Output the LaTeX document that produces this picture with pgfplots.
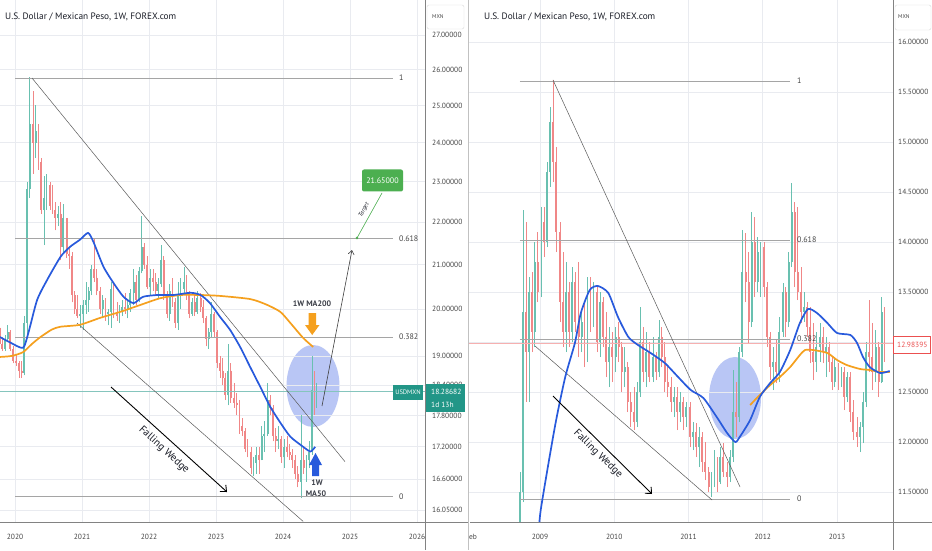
\documentclass[border=0pt]{standalone}
\usepackage{fontspec}
\setmainfont{PT Sans}
\usepackage{pgfplots}
\pgfplotsset{compat=1.18}
\usepackage{pgfplotstable}
\usetikzlibrary{arrows.meta}

\definecolor{upc}{RGB}{105,192,176}
\definecolor{dnc}{RGB}{240,135,135}
\definecolor{ma50}{RGB}{40,90,220}
\definecolor{ma200}{RGB}{245,160,30}
\definecolor{gridc}{RGB}{233,235,240}
\definecolor{axc}{RGB}{130,130,130}
\definecolor{txt}{RGB}{70,70,70}
\definecolor{ttl}{RGB}{25,28,38}
\definecolor{teal2}{RGB}{34,150,135}
\definecolor{tgt}{RGB}{76,175,80}
\definecolor{fibc}{RGB}{165,165,165}
\definecolor{trc}{RGB}{90,90,90}
\definecolor{ell}{RGB}{185,198,245}
\definecolor{redl}{RGB}{235,80,80}

\newcommand\buildcandles[1]{%
  \gdef\CANDLES{}%
  \pgfplotstablegetrowsof{#1}%
  \pgfmathtruncatemacro\nrows{\pgfplotsretval-1}%
  \foreach \i in {0,...,\nrows}{%
    \pgfplotstablegetelem{\i}{t}\of#1\let\ct\pgfplotsretval
    \pgfplotstablegetelem{\i}{o}\of#1\let\co\pgfplotsretval
    \pgfplotstablegetelem{\i}{h}\of#1\let\ch\pgfplotsretval
    \pgfplotstablegetelem{\i}{l}\of#1\let\cl\pgfplotsretval
    \pgfplotstablegetelem{\i}{c}\of#1\let\cc\pgfplotsretval
    \pgfmathtruncatemacro\isup{\cc>=\co}%
    \ifnum\isup=1 \def\ccol{upc}\else\def\ccol{dnc}\fi
    \xdef\CANDLES{\unexpanded\expandafter{\CANDLES}%
      \noexpand\addplot[\ccol, line width=0.6pt, forget plot] coordinates {(\ct,\cl) (\ct,\ch)};%
      \noexpand\addplot[\ccol, line width=1.9pt, forget plot] coordinates {(\ct,\co) (\ct,\cc)};}%
  }%
}

\pgfplotstableread{
t o h l c
2019.77 19.60 19.65 19.15 19.25
2019.81 19.25 19.40 19.10 19.15
2019.85 19.15 19.45 19.10 19.35
2019.89 19.35 19.65 19.30 19.50
2019.93 19.50 19.55 19.10 19.15
2019.97 19.15 19.20 18.85 18.90
2020.02 18.90 19.05 18.80 18.85
2020.06 18.85 18.90 18.55 18.70
2020.10 18.70 18.90 18.55 18.65
2020.14 18.65 19.85 18.60 19.70
2020.18 19.70 23.00 19.40 22.80
2020.22 22.80 25.78 22.60 24.50
2020.27 24.50 25.40 23.20 24.00
2020.31 24.00 25.00 23.60 24.30
2020.35 24.30 24.50 23.30 23.50
2020.39 23.50 23.60 22.20 22.30
2020.43 22.30 23.15 21.45 22.60
2020.47 22.60 23.20 22.30 22.90
2020.52 22.90 23.00 22.30 22.40
2020.56 22.40 22.90 22.20 22.30
2020.60 22.30 22.50 21.80 22.10
2020.64 22.10 22.40 21.90 22.20
2020.68 22.20 22.50 21.10 21.40
2020.72 21.40 22.45 21.30 22.10
2020.77 22.10 22.10 21.15 21.25
2020.81 21.25 21.40 20.90 21.20
2020.85 21.20 21.30 20.15 20.30
2020.89 20.30 20.40 19.90 20.00
2020.93 20.00 20.30 19.80 19.85
2020.97 19.85 20.10 19.60 19.90
2021.02 19.90 20.20 19.55 20.10
2021.06 20.10 20.60 19.90 20.20
2021.10 20.20 20.50 19.95 20.40
2021.14 20.40 21.00 20.30 20.90
2021.18 20.90 21.60 20.60 20.70
2021.22 20.70 20.90 20.30 20.40
2021.27 20.40 20.50 19.90 20.00
2021.31 20.00 20.30 19.80 20.20
2021.35 20.20 20.25 19.75 19.90
2021.39 19.90 20.00 19.65 19.95
2021.43 19.95 20.60 19.60 20.45
2021.47 20.45 20.55 19.80 19.95
2021.52 19.95 20.15 19.75 19.85
2021.56 19.85 20.10 19.70 19.95
2021.60 19.95 20.20 19.85 20.05
2021.64 20.05 20.35 19.90 20.00
2021.68 20.00 20.20 19.80 20.10
2021.72 20.10 20.45 19.95 20.35
2021.77 20.35 20.90 20.10 20.60
2021.81 20.60 20.75 20.10 20.20
2021.85 20.20 20.95 20.15 20.85
2021.89 20.85 22.15 20.80 21.40
2021.93 21.40 21.50 20.90 21.00
2021.97 21.00 21.20 20.45 20.50
2022.02 20.50 20.90 20.30 20.70
2022.06 20.70 20.90 20.40 20.60
2022.10 20.60 20.80 20.30 20.40
2022.14 20.40 20.70 20.25 20.55
2022.18 20.55 21.45 20.50 21.10
2022.22 21.10 21.20 20.20 20.30
2022.27 20.30 20.40 19.80 19.90
2022.31 19.90 20.55 19.75 20.40
2022.35 20.40 20.70 20.05 20.15
2022.39 20.15 20.25 19.60 19.70
2022.43 19.70 20.60 19.55 20.30
2022.47 20.30 20.70 20.00 20.45
2022.52 20.45 20.95 20.30 20.60
2022.56 20.60 20.75 20.20 20.30
2022.60 20.30 20.40 19.80 19.90
2022.64 19.90 20.25 19.85 20.15
2022.68 20.15 20.30 19.85 19.95
2022.72 19.95 20.40 19.90 20.25
2022.77 20.25 20.35 19.95 20.05
2022.81 20.05 20.20 19.70 19.80
2022.85 19.80 19.85 19.20 19.35
2022.89 19.35 19.60 19.15 19.50
2022.93 19.50 20.15 19.40 19.90
2022.97 19.90 19.95 19.40 19.50
2023.02 19.50 19.55 18.75 18.85
2023.06 18.85 19.00 18.55 18.70
2023.10 18.70 18.95 18.40 18.55
2023.14 18.55 18.65 18.10 18.20
2023.18 18.20 19.25 18.00 18.70
2023.22 18.70 18.85 18.05 18.15
2023.27 18.15 18.45 17.95 18.05
2023.31 18.05 18.25 17.80 18.00
2023.35 18.00 18.10 17.45 17.60
2023.39 17.60 17.75 17.40 17.50
2023.43 17.50 17.55 17.10 17.15
2023.47 17.15 17.35 17.00 17.10
2023.52 17.10 17.20 16.70 16.80
2023.56 16.80 17.00 16.65 16.90
2023.60 16.90 17.20 16.70 17.05
2023.64 17.05 17.20 16.70 16.95
2023.68 16.95 17.60 16.95 17.40
2023.72 17.40 17.70 17.10 17.45
2023.77 17.45 18.45 17.40 18.10
2023.81 18.10 18.20 17.80 17.95
2023.85 17.95 18.00 17.30 17.40
2023.89 17.40 17.55 17.10 17.30
2023.93 17.30 17.60 17.15 17.35
2023.97 17.35 17.40 16.90 17.00
2024.02 17.00 17.35 16.80 17.20
2024.06 17.20 17.40 17.00 17.10
2024.10 17.10 17.25 16.95 17.05
2024.14 17.05 17.15 16.80 16.95
2024.18 16.95 17.05 16.60 16.70
2024.22 16.70 16.85 16.45 16.55
2024.27 16.55 17.80 16.26 16.95
2024.31 16.95 17.20 16.70 16.80
2024.35 16.80 17.05 16.55 16.95
2024.39 16.95 17.30 16.80 17.10
2024.43 17.10 18.99 17.05 18.30
2024.47 18.30 18.70 17.80 18.05
2024.50 18.05 18.45 17.95 18.29
}\Ldata

\pgfplotstableread{
t o h l c
2008.73 10.90 11.70 10.80 11.50
2008.77 11.50 14.32 11.40 13.30
2008.81 13.30 14.20 12.40 12.90
2008.85 12.90 13.65 12.40 13.50
2008.89 13.50 13.70 12.90 13.10
2008.93 13.10 14.00 12.95 13.80
2008.97 13.80 14.10 13.40 13.50
2009.02 13.50 14.35 13.45 14.20
2009.06 14.20 14.35 13.85 14.00
2009.10 14.00 14.80 13.95 14.70
2009.14 14.70 15.35 14.55 15.20
2009.18 15.20 15.62 14.60 14.80
2009.22 14.80 14.95 13.90 14.10
2009.27 14.10 14.20 13.20 13.40
2009.31 13.40 13.90 12.95 13.10
2009.35 13.10 13.80 12.90 13.50
2009.39 13.50 13.60 12.95 13.10
2009.43 13.10 13.75 13.00 13.60
2009.47 13.60 13.70 13.10 13.20
2009.52 13.20 13.80 12.85 13.05
2009.56 13.05 13.30 12.90 13.20
2009.60 13.20 13.40 12.75 12.85
2009.64 12.85 13.65 12.80 13.50
2009.68 13.50 13.65 13.10 13.40
2009.72 13.40 13.60 13.15 13.50
2009.77 13.50 13.55 12.90 13.00
2009.81 13.00 13.50 12.85 13.40
2009.85 13.40 13.45 12.95 13.05
2009.89 13.05 13.30 12.65 12.80
2009.93 12.80 13.15 12.55 12.95
2009.97 12.95 13.10 12.60 12.85
2010.02 12.85 13.15 12.70 13.05
2010.06 13.05 13.20 12.80 12.95
2010.10 12.95 13.00 12.50 12.70
2010.14 12.70 12.95 12.55 12.75
2010.18 12.75 12.80 12.30 12.40
2010.22 12.40 12.50 12.15 12.30
2010.27 12.30 12.55 12.12 12.20
2010.31 12.20 12.60 12.15 12.50
2010.35 12.50 13.35 12.45 13.00
2010.39 13.00 13.15 12.60 12.70
2010.43 12.70 13.10 12.55 12.90
2010.47 12.90 13.00 12.60 12.65
2010.52 12.65 13.05 12.60 12.85
2010.56 12.85 12.90 12.62 12.70
2010.60 12.70 13.22 12.65 13.05
2010.64 13.05 13.15 12.75 12.85
2010.68 12.85 13.00 12.50 12.60
2010.72 12.60 12.75 12.45 12.55
2010.77 12.55 12.65 12.30 12.40
2010.81 12.40 12.55 12.25 12.45
2010.85 12.45 12.55 12.12 12.30
2010.89 12.30 12.50 12.20 12.40
2010.93 12.40 12.45 12.12 12.25
2010.97 12.25 12.40 12.15 12.35
2011.02 12.35 12.40 11.95 12.05
2011.06 12.05 12.20 11.92 12.10
2011.10 12.10 12.19 11.85 11.95
2011.14 11.95 12.15 11.75 12.05
2011.18 12.05 12.10 11.70 11.80
2011.22 11.80 12.00 11.62 11.70
2011.27 11.70 11.75 11.50 11.55
2011.31 11.55 11.70 11.45 11.60
2011.35 11.60 11.92 11.55 11.80
2011.39 11.80 11.85 11.50 11.60
2011.43 11.60 11.95 11.58 11.85
2011.47 11.85 11.99 11.65 11.70
2011.52 11.70 11.80 11.55 11.65
2011.56 11.65 11.92 11.60 11.85
2011.60 11.85 12.72 11.80 12.30
2011.64 12.30 12.60 12.05 12.25
2011.68 12.25 12.95 12.20 12.90
2011.72 12.90 14.12 12.85 13.70
2011.77 13.70 14.09 13.40 13.60
2011.81 13.60 13.90 12.99 13.20
2011.85 13.20 14.30 13.15 14.00
2011.89 14.00 14.25 13.45 13.60
2011.93 13.60 14.05 13.50 13.90
2011.97 13.90 14.00 13.45 13.95
2012.02 13.95 14.00 13.45 13.55
2012.06 13.55 13.60 12.95 13.05
2012.10 13.05 13.10 12.62 12.75
2012.14 12.75 12.95 12.52 12.80
2012.18 12.80 13.02 12.59 12.70
2012.22 12.70 13.25 12.60 13.10
2012.27 13.10 13.59 13.05 13.50
2012.31 13.50 13.55 13.05 13.20
2012.35 13.20 13.90 13.15 13.80
2012.39 13.80 14.59 13.75 14.30
2012.43 14.30 14.40 13.55 13.70
2012.47 13.70 14.35 13.42 13.50
2012.52 13.50 13.75 13.19 13.30
2012.56 13.30 13.50 13.20 13.35
2012.60 13.35 13.40 13.05 13.15
2012.64 13.15 13.35 12.79 12.90
2012.68 12.90 13.19 12.62 12.80
2012.72 12.80 13.10 12.70 12.95
2012.77 12.95 13.19 12.80 13.05
2012.81 13.05 13.15 12.79 12.90
2012.85 12.90 13.05 12.65 12.95
2012.89 12.95 13.00 12.70 12.80
2012.93 12.80 12.85 12.52 12.60
2012.97 12.60 12.85 12.55 12.75
2013.02 12.75 12.79 12.52 12.60
2013.06 12.60 12.75 12.55 12.70
2013.10 12.70 12.75 12.32 12.45
2013.14 12.45 12.70 12.40 12.65
2013.18 12.65 12.70 12.20 12.30
2013.22 12.30 12.42 12.02 12.10
2013.27 12.10 12.25 11.95 12.05
2013.31 12.05 12.20 11.90 12.15
2013.35 12.15 12.50 11.99 12.40
2013.39 12.40 13.00 12.35 12.90
2013.43 12.90 13.42 12.70 12.85
2013.47 12.85 13.19 12.52 12.70
2013.52 12.70 13.12 12.60 12.95
2013.56 12.95 13.00 12.45 12.60
2013.60 12.60 13.45 12.59 13.30
2013.64 13.30 13.35 12.80 12.98
}\Rdata

\begin{document}
\begin{tikzpicture}
\useasboundingbox (0pt,0pt) rectangle (932pt,550pt);
\fill[white] (0pt,0pt) rectangle (932pt,550pt);

% highlight ellipses (behind data), pixel coordinates
\begin{scope}[x=1pt,y=1pt,shift={(0pt,550pt)},yscale=-1]
\fill[ell] (313,386) ellipse [x radius=26.5, y radius=41];
\fill[ell] (735,398) ellipse [x radius=26, y radius=41];
\end{scope}

% ---------------- left panel (log price scale) ----------------
\buildcandles{\Ldata}
\begin{axis}[
  at={(0pt,28pt)}, anchor=south west, scale only axis,
  width=425pt, height=522pt,
  xmin=2019.776, xmax=2026.119,
  y coord trafo/.code={\pgfmathparse{ln(#1)}},
  y coord inv trafo/.code={\pgfmathparse{exp(#1)}},
  ymin=15.84, ymax=28.06,
  axis x line*=bottom, axis y line*=right,
  axis line style={draw=none},
  xtick={2020,2021,2022,2023,2024,2025,2026},
  xticklabels={2020,2021,2022,2023,2024,2025,2026},
  ytick={16.05,16.6,17.2,17.8,18.4,19,20,21,22,23,24,25,26,27},
  yticklabels={16.05000,16.60000,17.20000,17.80000,18.40000,19.00000,20.00000,21.00000,22.00000,23.00000,24.00000,25.00000,26.00000,27.00000},
  major tick length=0pt,
  grid=major, major grid style={gridc, line width=0.6pt},
  tick label style={font=\fontsize{7.5}{9}\selectfont, text=txt},
  xticklabel style={anchor=center, yshift=-15pt},
  yticklabel style={anchor=west, inner sep=0pt, xshift=7pt},
  /pgf/number format/assume math mode=true,
  clip mode=individual,
]
\CANDLES
% price line
\addplot[teal2!55, line width=0.5pt] coordinates {(2019.776,18.28682) (2026.119,18.28682)};
% fib levels
\addplot[fibc, line width=0.9pt] coordinates {(2020.0,25.76) (2025.642,25.76)};
\addplot[fibc, line width=0.9pt] coordinates {(2020.0,21.60) (2025.642,21.60)};
\addplot[fibc, line width=0.9pt] coordinates {(2020.0,19.40) (2025.642,19.40)};
\addplot[fibc, line width=0.9pt] coordinates {(2020.0,16.28) (2025.642,16.28)};
% wedge lines
\addplot[trc, line width=0.5pt] coordinates {(2020.254,25.76) (2024.925,16.92)};
\addplot[trc, line width=0.5pt] coordinates {(2020.925,19.70) (2024.30,15.85)};
% moving averages
\addplot[ma200, line width=1.7pt, smooth, tension=0.4] coordinates {
(2019.776,18.98) (2019.95,19.00) (2020.12,19.08) (2020.25,19.25) (2020.38,19.40)
(2020.55,19.56) (2020.68,19.62) (2020.97,19.66) (2021.27,19.81) (2021.57,19.94)
(2021.87,20.09) (2022.17,20.24) (2022.47,20.31) (2022.77,20.31) (2023.06,20.29)
(2023.51,20.22) (2023.75,20.10) (2023.96,19.94) (2024.11,19.70) (2024.30,19.38) (2024.45,19.19)};
\addplot[ma50, line width=1.7pt, smooth, tension=0.4] coordinates {
(2019.776,19.40) (2019.93,19.28) (2020.12,19.17) (2020.20,19.49) (2020.33,20.20)
(2020.48,20.65) (2020.68,21.18) (2020.82,21.41) (2020.97,21.58) (2021.09,21.74)
(2021.17,21.53) (2021.32,20.95) (2021.47,20.58) (2021.62,20.27) (2021.77,20.13)
(2021.91,20.27) (2022.12,20.31) (2022.36,20.31) (2022.62,20.36) (2022.77,20.31)
(2022.91,20.13) (2023.06,19.83) (2023.21,19.55) (2023.36,19.19) (2023.51,18.77)
(2023.66,18.37) (2023.81,17.97) (2023.96,17.66) (2024.11,17.39) (2024.30,17.20)
(2024.41,17.11) (2024.48,17.20)};
% target point
\addplot[tgt, only marks, mark=*, mark size=1.1pt] coordinates {(2025.104,21.62)};
\end{axis}

% ---------------- right panel ----------------
\buildcandles{\Rdata}
\begin{axis}[
  at={(469pt,28pt)}, anchor=south west, scale only axis,
  width=424pt, height=522pt,
  xmin=2008.044, xmax=2013.754,
  ymin=11.20, ymax=16.42,
  axis x line*=bottom, axis y line*=right,
  axis line style={draw=none},
  xtick={2009,2010,2011,2012,2013},
  xticklabels={2009,2010,2011,2012,2013},
  ytick={11.5,12,12.5,13,13.5,14,14.5,15,15.5,16},
  yticklabels={11.50000,12.00000,12.50000,13.00000,13.50000,14.00000,14.50000,15.00000,15.50000,16.00000},
  major tick length=0pt,
  grid=major, major grid style={gridc, line width=0.6pt},
  tick label style={font=\fontsize{7.5}{9}\selectfont, text=txt},
  xticklabel style={anchor=center, yshift=-15pt},
  yticklabel style={anchor=west, inner sep=0pt, xshift=5pt},
  /pgf/number format/assume math mode=true,
  clip mode=individual,
]
\CANDLES
\addplot[redl!45, line width=0.5pt] coordinates {(2008.044,12.98395) (2013.754,12.98395)};
\addplot[fibc, line width=0.9pt] coordinates {(2008.73,15.61) (2012.367,15.61)};
\addplot[fibc, line width=0.9pt] coordinates {(2008.73,14.02) (2012.367,14.02)};
\addplot[fibc, line width=0.9pt] coordinates {(2008.73,13.03) (2012.367,13.03)};
\addplot[fibc, line width=0.9pt] coordinates {(2008.73,11.43) (2012.367,11.43)};
\addplot[trc, line width=0.5pt] coordinates {(2009.175,15.62) (2011.694,11.55)};
\addplot[trc, line width=0.5pt] coordinates {(2008.933,12.96) (2011.317,11.42)};
\addplot[ma200, line width=1.7pt, smooth, tension=0.4] coordinates {
(2011.83,12.37) (2011.96,12.47) (2012.10,12.57) (2012.23,12.65) (2012.37,12.75)
(2012.50,12.87) (2012.57,12.92) (2012.68,12.92) (2012.87,12.89) (2013.00,12.82)
(2013.13,12.77) (2013.31,12.73) (2013.44,12.72) (2013.58,12.70) (2013.71,12.70)};
\addplot[ma50, line width=1.7pt, smooth, tension=0.4] coordinates {
(2008.975,11.00) (2009.01,11.32) (2009.20,12.15) (2009.34,12.65) (2009.47,12.99)
(2009.55,13.29) (2009.67,13.52) (2009.78,13.56) (2009.92,13.49) (2010.05,13.25)
(2010.19,13.05) (2010.32,12.97) (2010.49,12.89) (2010.68,12.79) (2010.86,12.65)
(2011.03,12.52) (2011.20,12.44) (2011.38,12.25) (2011.52,12.09) (2011.63,12.00)
(2011.69,12.05) (2011.83,12.22) (2011.96,12.45) (2012.10,12.59) (2012.23,12.70)
(2012.37,12.92) (2012.50,13.19) (2012.61,13.33) (2012.73,13.29) (2012.87,13.19)
(2013.00,13.09) (2013.18,13.07) (2013.27,12.99) (2013.35,12.85) (2013.44,12.75)
(2013.58,12.69) (2013.71,12.71)};
\end{axis}

% ---------------- decorations in pixel coordinates ----------------
\begin{scope}[x=1pt,y=1pt,shift={(0pt,550pt)},yscale=-1]
\draw[axc, line width=0.6pt] (0,522) -- (468,522);
\draw[axc, line width=0.6pt] (470,522) -- (932,522);
\draw[axc, line width=0.6pt] (425,0) -- (425,550);
\draw[axc!50, line width=0.6pt] (468.5,0) -- (468.5,550);
\draw[axc, line width=0.6pt] (893,0) -- (893,550);

\node[anchor=center, font=\fontsize{7.5}{9}\selectfont, text=txt] at (473,537) {eb};

% titles
\node[anchor=west, inner sep=0pt, font=\fontsize{9.3}{11}\selectfont, text=ttl] at (5,17) {U.S. Dollar / Mexican Peso, 1W, FOREX.com};
\node[anchor=west, inner sep=0pt, font=\fontsize{9.3}{11}\selectfont, text=ttl] at (484,17) {U.S. Dollar / Mexican Peso, 1W, FOREX.com};

% currency boxes
\draw[black!15, fill=white, rounded corners=2pt] (427,5) rectangle (464,29);
\node[anchor=west, inner sep=0pt, font=\fontsize{5.5}{6}\selectfont, text=txt] at (432,17) {MXN};
\draw[black!15, fill=white, rounded corners=2pt] (895,5) rectangle (931,30);
\node[anchor=west, inner sep=0pt, font=\fontsize{5.5}{6}\selectfont, text=txt] at (898,17) {MXN};

% fib labels left
\foreach \yy/\lab in {78/1, 239/0.618, 337/0.382, 497/0} {
  \node[anchor=west, inner sep=0pt, font=\fontsize{8}{9}\selectfont, text=txt] at (399,\yy) {\lab};
}
% fib labels right
\foreach \yy/\lab in {81/1, 240/0.618, 339/0.382, 499/0} {
  \node[anchor=west, inner sep=0pt, font=\fontsize{8}{9}\selectfont, text=txt] at (797,\yy) {\lab};
}

% price labels
\fill[teal2] (393,385) rectangle (423,400);
\node[text=white, inner sep=0pt, font=\fontsize{6.5}{7}\selectfont] at (408,392.5) {USDMXN};
\fill[teal2] (426,384) rectangle (465,412);
\node[anchor=west, text=white, inner sep=0pt, font=\fontsize{7.5}{8}\selectfont] at (431,392) {18.28682};
\node[anchor=west, text=white, inner sep=0pt, font=\fontsize{7.5}{8}\selectfont] at (431,405) {1d 13h};
\draw[redl, fill=white] (893.5,336) rectangle (930,353);
\node[anchor=west, text=redl, inner sep=0pt, font=\fontsize{7.5}{8}\selectfont] at (897,344.5) {12.98395};

% falling wedge arrows and labels
\draw[black, line width=0.9pt, -{Straight Barb[length=5pt,width=9pt]}] (111,387) -- (227,492);
\node[rotate=-42.5, font=\fontsize{10.5}{12}\selectfont, text=ttl] at (164,450) {Falling Wedge};
\draw[black, line width=0.9pt, -{Straight Barb[length=5pt,width=9pt]}] (553,396) -- (652,494);
\node[rotate=-44.7, font=\fontsize{10.5}{12}\selectfont, text=ttl] at (598,454) {Falling Wedge};

% MA labels and block arrows
\node[font=\bfseries\fontsize{8}{10}\selectfont, text=ttl!85] at (312,304) {1W MA200};
\fill[ma200] (308.5,313) -- (316,313) -- (316,325) -- (319.5,325) -- (312.2,335) -- (305,325) -- (308.5,325) -- cycle;
\fill[ma50] (315.5,453) -- (322,465) -- (319,465) -- (319,476) -- (312,476) -- (312,465) -- (309,465) -- cycle;
\node[font=\bfseries\fontsize{8}{10}\selectfont, text=ttl!85] at (317,483) {1W};
\node[font=\bfseries\fontsize{8}{10}\selectfont, text=ttl!85] at (316,494) {MA50};

% projection arrow
\draw[black!75, line width=0.6pt, -{Straight Barb[length=4pt,width=6pt]}] (322,406) -- (352,250);

% target
\draw[tgt, line width=0.6pt] (357,238) -- (382,193);
\node[rotate=61, font=\fontsize{6}{7}\selectfont\itshape, text=ttl] at (364,210) {Target};
\node[fill=tgt, text=white, rounded corners=2pt, minimum width=41pt, minimum height=22pt, inner sep=0pt, font=\fontsize{8}{9}\selectfont] at (382.5,180.5) {21.65000};
\end{scope}
\end{tikzpicture}
\end{document}
